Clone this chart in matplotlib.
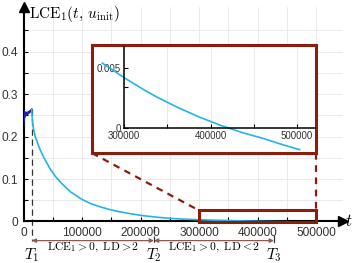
''' LCE_1 decay with zoomed inset'''

import numpy as np
import matplotlib
matplotlib.use('Agg')
import matplotlib.pyplot as plt
from matplotlib.patches import Rectangle

plt.rcParams['font.family'] = ['Liberation Sans', 'DejaVu Sans']
plt.rcParams['mathtext.fontset'] = 'cm'

#%% data

# transient part before T1
t_start = [0, 500, 1000, 1500, 2000, 2500, 3000, 4000, 5000, 6000, 7000,
           8000, 9000, 10000, 11000, 12000, 13000, 14000]
lce_start = [0.225, 0.262, 0.238, 0.258, 0.246, 0.255, 0.249, 0.257, 0.251,
             0.256, 0.253, 0.258, 0.255, 0.259, 0.258, 0.261, 0.262, 0.264]

# decay after T1
t_lce = [14000, 15000, 16800, 20000, 24000, 28000, 35000, 45000, 55000,
         65000, 80000, 100000, 115000, 130000, 145000, 160000, 180000,
         200000, 225000, 250000, 262500, 275000, 287500,
         300000, 312500, 325000, 337500, 350000, 362500, 375000, 387500,
         400000, 412500, 425000, 437500, 450000, 462500, 475000, 487500, 503000]
lce = [0.264, 0.24, 0.22, 0.2, 0.185, 0.17, 0.15, 0.125, 0.105,
       0.09, 0.07, 0.052, 0.042, 0.035, 0.029, 0.024, 0.019,
       0.0145, 0.0105, 0.0075, 0.0064, 0.0054, 0.0048,
       0.0042, 0.00365, 0.0031, 0.0026, 0.00215, 0.0017, 0.0013, 0.0009,
       0.00055, 0.0002, -0.0001, -0.0004, -0.00065, -0.0009, -0.0012, -0.00148, -0.0018]

T1, T2, T3 = 14000, 223000, 428000
phase_labels = [r'$\mathrm{LCE}_1>0,\ \mathrm{LD}>2$',
                r'$\mathrm{LCE}_1>0,\ \mathrm{LD}<2$']

xticks = [0, 100000, 200000, 300000, 400000, 500000]
yticks = [0, 0.1, 0.2, 0.3, 0.4]

#%% style
cyan = '#22b5e8'
navy = '#2020b0'
red = '#8c1c0c'
brown = '#8a5a50'
grey = '#333333'

fig = plt.figure(figsize=(3.53, 2.63), dpi=100)
ax = fig.add_axes([0.0666, 0.1578, 0.905, 0.8156])

ax.set_xlim(0, 546000)
ax.set_ylim(0, 0.505)
xt = np.arange(0, 500001, 50000)
ax.set_xticks(xt)
ax.set_xticklabels([str(v) if v in xticks else '' for v in xt])
yt = np.arange(0, 0.451, 0.05)
ax.set_yticks(yt)
ax.set_yticklabels([('%g' % v) if np.any(np.isclose(v, yticks)) else '' for v in yt])
ax.tick_params(direction='in', length=3, width=0.8, labelsize=8.6,
               labelcolor=grey, pad=4)
ax.grid(True, color='#e6e6e6', lw=0.6)
ax.set_axisbelow(True)
for s in ['top', 'right']:
    ax.spines[s].set_visible(False)
for s in ['left', 'bottom']:
    ax.spines[s].set_linewidth(1.5)

# axis arrows
ax.plot(1, 0, '>k', ms=7, transform=ax.get_yaxis_transform(), clip_on=False)
ax.plot(0, 1, '^k', ms=7, transform=ax.get_xaxis_transform(), clip_on=False)

fig.text(29/353, 1 - 14/263, r'$\mathrm{LCE}_1(t,\,u_{\mathrm{init}})$',
         fontsize=11, ha='left', va='center')
fig.text(349/353, 1 - 221/263, r'$t$', fontsize=12, ha='center', va='center')

# curves
ax.plot(t_start, lce_start, color=navy, lw=1.4, zorder=3)
ax.plot(t_lce, lce, color=cyan, lw=1.2, zorder=3)

# phase markers
ax.plot([T1, T1], [lce[0], -0.047], ls=(0, (5, 3)), color=grey, lw=0.9, clip_on=False)
ax.plot([T2, T2], [-0.011, -0.05], ls=(0, (5, 3)), color=grey, lw=0.9, clip_on=False)
ax.plot([T3, T3], [-0.034, -0.048], color=grey, lw=0.9, clip_on=False)

for a, b, lab in [(T1, T2, phase_labels[0]), (T2, T3, phase_labels[1])]:
    ax.annotate('', xy=(b, -0.045), xytext=(a, -0.045), annotation_clip=False,
                arrowprops=dict(arrowstyle='<|-|>', color=brown, lw=0.9,
                                mutation_scale=6, shrinkA=0, shrinkB=0))
    ax.text((a + b) / 2, -0.061, lab, fontsize=8.3, ha='center', va='center')

for T, lab in [(T1, r'$T_1$'), (T2, r'$T_2$'), (T3, r'$T_3$')]:
    ax.text(T, -0.08, lab, fontsize=11, ha='center', va='center')

# zoom box and inset frame
ax.add_patch(Rectangle((300000, -0.002), 200000, 0.028, fill=False, ec=red,
                       lw=2.2, clip_on=False, zorder=5))
ax.add_patch(Rectangle((117100, 0.161), 500000 - 117100, 0.415 - 0.161,
                       fc='white', ec=red, lw=2.2, clip_on=False, zorder=5))
ax.plot([117100, 300000], [0.161, 0.026], ls=(0, (3, 2.5)), color=red, lw=1.6,
        clip_on=False, zorder=4)
ax.plot([500000, 500000], [0.161, 0.026], ls=(0, (3, 2.5)), color=red, lw=1.6,
        clip_on=False, zorder=4)

#%% inset
ins = fig.add_axes([0.3513, 0.5133, 0.541, 0.308])
ins.patch.set_alpha(0)
ins.set_xlim(300000, 520800)
ins.set_ylim(0, 0.00675)
ins.set_xticks([300000, 350000, 400000, 450000, 500000])
ins.set_xticklabels(['300000', '', '400000', '', '500000'])
ins.set_yticks([0, 0.0034, 0.005])
ins.set_yticklabels(['0', '', '0.005'])
ins.tick_params(direction='in', length=3, width=0.8, labelsize=7,
                labelcolor=grey, pad=2)
ins.grid(True, axis='x', color='#e6e6e6', lw=0.6)
for s in ['top', 'right']:
    ins.spines[s].set_visible(False)
for s in ['left', 'bottom']:
    ins.spines[s].set_linewidth(1.1)

t_arr = np.array(t_lce)
m = t_arr >= 274000
ins.plot(t_arr[m], np.array(lce)[m], color=cyan, lw=1.2, clip_on=False)

fig.savefig('out.png', dpi=100)
